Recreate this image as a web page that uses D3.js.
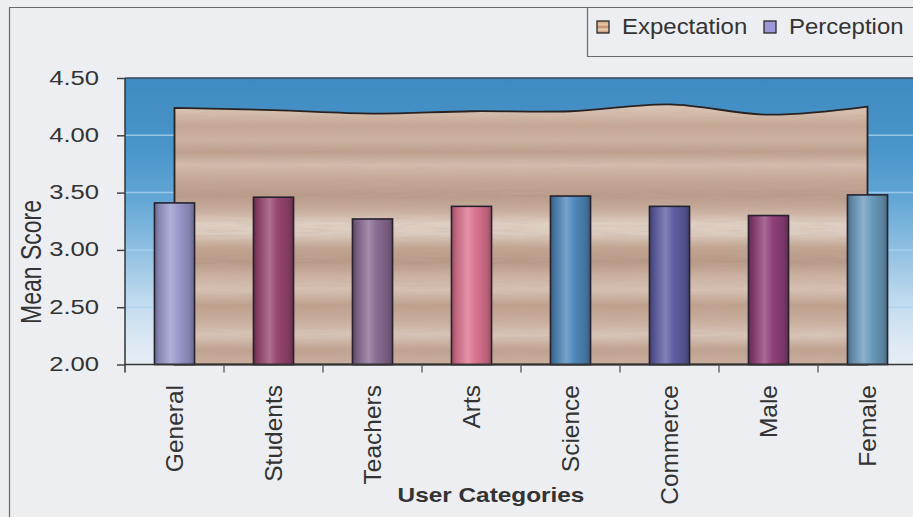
<!DOCTYPE html>
<html>
<head>
<meta charset="utf-8">
<script src="https://cdn.jsdelivr.net/npm/d3@7"></script>
<style>
  html, body { margin: 0; padding: 0; background: #eceef2; }
  svg { display: block; }
  text { font-family: "Liberation Sans", Arial, sans-serif; fill: #333; }
</style>
</head>
<body>
<svg id="chart" width="913" height="517"></svg>
<script>
// Mean scores per user category
const categories = ["General", "Students", "Teachers", "Arts", "Science", "Commerce", "Male", "Female"];
const expectation = [4.24, 4.22, 4.19, 4.21, 4.21, 4.27, 4.18, 4.25];
const perception  = [3.41, 3.46, 3.27, 3.38, 3.47, 3.38, 3.30, 3.48];
const yTicks = [2.0, 2.5, 3.0, 3.5, 4.0, 4.5];
const seriesNames = ["Expectation", "Perception"];

// Palette for the cylinder bars (one per category)
const barColors = ["#9a98cc", "#984670", "#8a6c94", "#dc7490", "#4f88ba", "#605fa4", "#91407a", "#6b9bbd"];

const W = 913, H = 517;
const plot = { left: 125, right: 917, top: 78, bottom: 364.5 };

const svg = d3.select("#chart");
const defs = svg.append("defs");

const x = d3.scaleBand().domain(categories).range([plot.left, plot.right]).padding(0);
const y = d3.scaleLinear().domain([2, 4.5]).range([plot.bottom, plot.top]);
const bw = x.bandwidth();
const cx = c => x(c) + bw / 2;

// Blue backdrop gradient of the plot area
const bg = defs.append("linearGradient").attr("id", "plotBg")
  .attr("gradientUnits", "userSpaceOnUse")
  .attr("x1", 0).attr("x2", 0).attr("y1", plot.top).attr("y2", plot.bottom);
[[0, "#3f8bc1"], [0.25, "#4a95ca"], [0.42, "#62a6d5"], [0.6, "#8fc0e2"], [0.78, "#c0dbee"], [0.92, "#dce8f3"], [1, "#e6eef6"]]
  .forEach(([o, c]) => bg.append("stop").attr("offset", o).attr("stop-color", c));

// Striped tan texture for the expectation area
const tex = defs.append("linearGradient").attr("id", "expTex")
  .attr("gradientUnits", "userSpaceOnUse")
  .attr("x1", 0).attr("x2", 0).attr("y1", 100).attr("y2", 365);
[[100, "#e0ccbe"], [112, "#d6bead"], [126, "#c4a693"], [140, "#cdb3a2"], [152, "#bd9e8b"], [165, "#d3bcad"],
 [180, "#c4a794"], [196, "#b89a88"], [210, "#c8ad9c"], [224, "#e0d0c4"], [234, "#dccbbf"],
 [248, "#c1a490"], [262, "#b79886"], [276, "#ccb2a1"], [290, "#d7c2b4"], [305, "#bea08c"], [320, "#c8ad9b"],
 [335, "#d8c5b8"], [350, "#bfa18e"], [365, "#cab09f"]]
  .forEach(([p, c]) => tex.append("stop").attr("offset", (p - 100) / 265).attr("stop-color", c));

// Light grain over the texture
const grain = defs.append("filter").attr("id", "grain").attr("x", 0).attr("y", 0).attr("width", 1).attr("height", 1);
grain.append("feTurbulence").attr("type", "fractalNoise").attr("baseFrequency", "0.03 0.4")
  .attr("numOctaves", 3).attr("seed", 7).attr("result", "noise");
grain.append("feColorMatrix").attr("in", "noise").attr("type", "matrix")
  .attr("values", "0 0 0 0 0.55  0 0 0 0 0.42  0 0 0 0 0.36  0 0 0 -0.7 0.42").attr("result", "tint");
grain.append("feComposite").attr("in", "tint").attr("in2", "SourceAlpha").attr("operator", "in").attr("result", "tintIn");
grain.append("feMerge").call(m => { m.append("feMergeNode").attr("in", "SourceGraphic"); m.append("feMergeNode").attr("in", "tintIn"); });

// Cylinder shading per bar colour
barColors.forEach((col, i) => {
  const g = defs.append("linearGradient").attr("id", "cyl" + i).attr("x1", 0).attr("x2", 1).attr("y1", 0).attr("y2", 0);
  const c = d3.color(col);
  const hi = d3.color(d3.interpolateRgb(col, "#ffffff")(0.22));
  [[0, c.darker(1.1)], [0.12, c.darker(0.35)], [0.4, hi], [0.6, c], [0.88, c.darker(0.5)], [1, c.darker(1.1)]]
    .forEach(([o, k]) => g.append("stop").attr("offset", o).attr("stop-color", k.formatHex()));
});

// Outer frame
svg.append("path").attr("d", `M9.5,${H} V7.5 H${W}`).attr("fill", "none").attr("stroke", "#6a6a6a").attr("stroke-width", 1.2);

// Plot area
svg.append("rect").attr("x", plot.left).attr("y", plot.top)
  .attr("width", plot.right - plot.left).attr("height", plot.bottom - plot.top)
  .attr("fill", "url(#plotBg)");

// Gridlines
svg.append("g").selectAll("line").data(yTicks.slice(1, -1)).join("line")
  .attr("x1", plot.left).attr("x2", plot.right)
  .attr("y1", d => y(d)).attr("y2", d => y(d))
  .attr("stroke", "#a9d3ee").attr("stroke-width", 1.5).attr("opacity", 0.8);

// Expectation area
const expData = categories.map((c, i) => ({ c, v: expectation[i] }));
const area = d3.area().x(d => cx(d.c)).y0(y(2)).y1(d => y(d.v)).curve(d3.curveCatmullRom.alpha(0.5));
svg.append("path").datum(expData).attr("d", area)
  .attr("fill", "url(#expTex)").attr("filter", "url(#grain)");
svg.append("path").datum(expData).attr("d", area)
  .attr("fill", "none").attr("stroke", "#2a2220").attr("stroke-width", 1.8);

// Perception bars
const barW = bw * 0.405;
svg.append("g").selectAll("rect").data(categories).join("rect")
  .attr("x", c => cx(c) - barW / 2).attr("width", barW)
  .attr("y", (c, i) => y(perception[i])).attr("height", (c, i) => y(2) - y(perception[i]))
  .attr("fill", (c, i) => `url(#cyl${i})`)
  .attr("stroke", "#27222e").attr("stroke-width", 1.6);

// Plot top border
svg.append("line").attr("x1", plot.left).attr("x2", plot.right).attr("y1", plot.top).attr("y2", plot.top)
  .attr("stroke", "#3a4656").attr("stroke-width", 1.5);

// Y axis
const yAxis = svg.append("g").attr("transform", `translate(${plot.left},0)`)
  .call(d3.axisLeft(y).tickValues(yTicks).tickFormat(d3.format(".2f")).tickSize(8).tickSizeOuter(0));
yAxis.select(".domain").attr("stroke", "#333").attr("stroke-width", 1.5).attr("d", `M0,${plot.top}V${plot.bottom + 8}`);
yAxis.selectAll(".tick line").attr("stroke", "#444").attr("stroke-width", 1.5);
yAxis.selectAll(".tick text")
  .attr("x", null).attr("dy", null)
  .attr("transform", "translate(-26,6) scale(1.25,1)")
  .style("font-size", "20.5px").attr("fill", "#333").attr("font-family", null);

// X axis: baseline, tick marks at band edges, rotated category labels
svg.append("line").attr("x1", plot.left).attr("x2", plot.right).attr("y1", plot.bottom).attr("y2", plot.bottom)
  .attr("stroke", "#333").attr("stroke-width", 1.5);
svg.append("g").selectAll("line").data(categories.slice(1)).join("line")
  .attr("x1", c => x(c)).attr("x2", c => x(c))
  .attr("y1", plot.bottom).attr("y2", plot.bottom + 8)
  .attr("stroke", "#555").attr("stroke-width", 1.3);
svg.append("g").selectAll("text").data(categories).join("text")
  .attr("transform", c => `translate(${cx(c)},385) rotate(-90)`)
  .attr("text-anchor", "end").attr("dy", "0.36em")
  .style("font-size", "24.5px")
  .text(c => c);

// Axis titles
svg.append("text").attr("transform", "translate(31,262) scale(1.25,1) rotate(-90)")
  .attr("text-anchor", "middle").attr("dy", "0.36em").style("font-size", "23px").text("Mean Score");
svg.append("text").attr("transform", "translate(491,502) scale(1.16,1)")
  .attr("text-anchor", "middle").style("font-size", "21px").style("font-weight", "bold").text("User Categories");

// Legend
svg.append("path").attr("d", `M${W},56.5 H587.5 V7.5`).attr("fill", "none").attr("stroke", "#6a6a6a").attr("stroke-width", 1.2);
const legSw = defs.append("linearGradient").attr("id", "legExp").attr("x1", 0).attr("x2", 0).attr("y1", 0).attr("y2", 1);
[[0, "#c89a78"], [0.3, "#e8c8a8"], [0.5, "#c08a68"], [0.7, "#ecd0b4"], [1, "#b88866"]]
  .forEach(([o, c]) => legSw.append("stop").attr("offset", o).attr("stop-color", c));
const legFills = ["url(#legExp)", "#9a98d6"];
const legX = [597, 764];
const leg = svg.append("g").selectAll("g").data(seriesNames).join("g")
  .attr("transform", (d, i) => `translate(${legX[i]},0)`);
leg.append("rect").attr("x", 0).attr("y", 21).attr("width", 12).attr("height", 12)
  .attr("fill", (d, i) => legFills[i]).attr("stroke", "#2a2a2a").attr("stroke-width", 1.3);
leg.append("text").attr("transform", "translate(25,33.5) scale(1.09,1)")
  .style("font-size", "22px").text(d => d);
</script>
</body>
</html>
